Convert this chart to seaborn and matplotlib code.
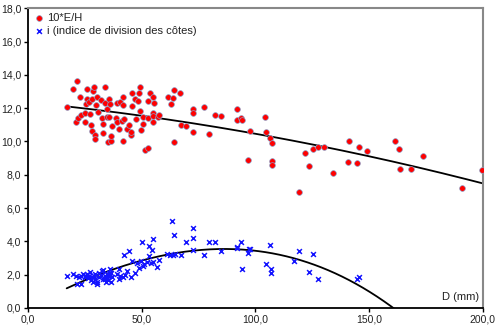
import numpy as np
import pandas as pd
import matplotlib
matplotlib.use("Agg")
import matplotlib.pyplot as plt
import seaborn as sns
from matplotlib.ticker import FuncFormatter

# ---- data ----
red_x = [16.9, 19.8, 21.3, 21.0, 21.9, 22.8, 23.3, 24.8, 25.1, 25.4, 25.7, 26.0, 26.9, 27.2, 27.8,
         28.0, 28.0, 28.4, 28.9, 29.2, 29.2, 29.8, 30.1, 30.7, 32.1, 32.5, 32.8, 33.0, 33.6, 33.9,
         34.8, 34.8, 35.1, 35.7, 36.0, 35.7, 36.3, 36.5, 36.9, 38.6, 38.9, 39.2, 40.0, 40.4, 41.3,
         41.6, 41.8, 42.1, 41.8, 43.6, 44.2, 45.1, 45.4, 45.7, 45.7, 46.9, 47.4, 48.3, 48.9, 49.2,
         49.2, 49.8, 50.4, 50.4, 51.5, 52.7, 52.7, 52.7, 53.6, 54.8, 55.3, 54.8, 54.8, 55.0, 57.1,
         57.7, 61.5, 62.7, 63.6, 64.2, 66.8, 64.2, 67.1, 69.4, 72.4, 72.7, 72.7, 77.4, 79.7, 82.1,
         85.0, 91.8, 92.0, 93.5, 94.1, 96.9, 97.6, 104.1, 104.7, 106.4, 107.3, 107.3, 107.3, 119.2,
         121.7, 123.7, 125.5, 127.6, 130.2, 134.3, 141.1, 140.8, 144.6, 145.7, 149.3, 161.6, 163.4,
         163.7, 168.4, 173.7, 191.0, 199.6]
red_y = [12.05, 13.17, 13.65, 11.17, 11.41, 12.65, 11.61, 11.17, 11.69, 12.25, 12.53, 13.13, 12.37, 11.65, 10.97,
         10.61, 12.53, 13.05, 13.25, 10.41, 10.17, 12.17, 12.65, 11.77, 12.49, 11.41, 11.05, 10.53, 13.25, 12.33,
         11.45, 11.97, 9.97, 12.53, 12.25, 11.45, 10.05, 10.33, 10.93, 11.41, 11.17, 12.33, 10.77, 12.37, 11.21,
         12.21, 12.69, 11.33, 10.05, 10.73, 10.97, 10.37, 10.57, 12.13, 12.93, 12.53, 11.33, 12.45, 12.93, 13.25,
         11.81, 10.69, 11.05, 11.45, 9.49, 9.61, 11.41, 12.45, 12.93, 12.65, 12.33, 11.73, 11.17, 11.53, 11.45,
         11.61, 12.69, 12.25, 12.61, 13.09, 12.93, 9.97, 10.97, 10.93, 11.93, 11.73, 10.57, 12.09, 10.45, 11.61,
         11.53, 11.97, 11.29, 11.41, 11.29, 8.89, 10.63, 11.45, 10.55, 10.19, 9.93, 8.85, 8.61, 6.98,
         9.29, 8.53, 9.57, 9.65, 9.69, 8.13, 10.01, 8.77, 8.73, 9.69, 9.41, 10.01, 9.57,
         8.33, 8.33, 9.13, 7.20, 8.31]

blue_x = [16.9, 19.8, 21.0, 21.6, 22.5, 23.1, 23.3, 24.2, 24.8, 25.4, 26.0, 26.3, 26.9, 27.2, 27.5,
          28.0, 28.4, 28.9, 29.2, 29.5, 30.1, 30.4, 31.0, 31.3, 32.1, 32.5, 32.8, 33.0, 33.6, 33.9,
          34.2, 34.5, 34.8, 35.1, 35.4, 35.7, 36.0, 36.3, 36.5, 36.9, 39.2, 39.8, 40.1, 40.4, 41.6,
          42.1, 42.7, 43.3, 44.5, 45.1, 45.7, 46.9, 47.7, 48.9, 49.5, 50.1, 50.4, 50.9, 52.1, 53.0,
          53.3, 53.9, 54.5, 54.8, 55.0, 56.5, 57.4, 61.2, 62.4, 63.3, 63.6, 64.2, 64.5, 67.1, 69.4,
          72.4, 72.7, 72.7, 77.4, 79.7, 82.1, 85.0, 91.8, 92.0, 93.5, 94.1, 96.7, 97.3, 97.6, 106.4,
          104.7, 107.0, 107.0, 119.1, 117.0, 125.5, 123.7, 127.6, 144.6, 145.5]
blue_y = [1.94, 2.06, 1.92, 1.46, 1.84, 1.92, 1.46, 2.02, 1.84, 1.92, 2.06, 1.78, 1.92, 2.16, 1.68,
          1.84, 1.58, 1.92, 1.72, 2.04, 1.46, 1.54, 2.12, 1.84, 1.96, 2.20, 1.76, 2.28, 1.92, 1.72,
          1.56, 2.04, 1.84, 1.68, 2.12, 1.92, 2.32, 1.56, 2.08, 1.84, 2.02, 1.76, 2.34, 1.92, 1.84,
          3.18, 1.98, 2.20, 3.44, 1.84, 2.84, 2.12, 2.68, 2.38, 2.84, 3.98, 2.52, 2.64, 2.78, 3.72,
          3.12, 2.72, 3.48, 4.13, 2.76, 2.48, 2.88, 3.24, 3.16, 5.23, 3.18, 4.37, 3.24, 3.18, 3.98,
          4.79, 4.19, 3.48, 3.18, 3.98, 3.98, 3.44, 3.68, 3.60, 3.98, 2.32, 3.28, 3.56, 3.54, 3.80,
          2.64, 2.32, 2.08, 3.40, 2.84, 3.24, 2.18, 1.74, 1.74, 1.84]

x_ticks = [0, 50, 100, 150, 200]
y_ticks = [0, 2, 4, 6, 8, 10, 12, 14, 16, 18]
red_label = "10*E/H"
blue_label = "i (indice de division des côtes)"
x_title = "D (mm)"

red_df = pd.DataFrame({"D": red_x, "v": red_y})
blue_df = pd.DataFrame({"D": blue_x, "v": blue_y})

# ---- style ----
sns.set_style("white")
plt.rcParams["font.family"] = ["Liberation Sans", "DejaVu Sans"]

fig = plt.figure(figsize=(5.0, 3.28), dpi=100)
ax = fig.add_axes([0.0566, 0.061, 0.9084, 0.9137])

sns.scatterplot(data=red_df, x="D", y="v", ax=ax, color="#ff0000", marker="o", s=17,
                edgecolor="#8e9cc4", linewidth=0.5, label=red_label, zorder=3)
sns.scatterplot(data=blue_df, x="D", y="v", ax=ax, color="#1414ff", marker="x", s=12,
                linewidth=1.1, label=blue_label, zorder=3)

# trend lines (polynomial fits of each series, as in the original)
xr = np.linspace(min(red_x), 200, 300)
cr = np.polyfit(red_x, red_y, 2)
ax.plot(xr, np.polyval(cr, xr), color="black", lw=1.3, zorder=2)
xb = np.linspace(min(blue_x), 200, 300)
cb = np.polyfit(blue_x, blue_y, 3)
ax.plot(xb, np.polyval(cb, xb), color="black", lw=1.3, zorder=2)

ax.set_xlim(0, 200)
ax.set_ylim(0, 18)
ax.set_xticks(x_ticks)
ax.set_yticks(y_ticks)
fmt = FuncFormatter(lambda v, p: f"{v:.1f}".replace(".", ","))
ax.xaxis.set_major_formatter(fmt)
ax.yaxis.set_major_formatter(fmt)
ax.tick_params(axis="both", labelsize=7.5, length=3, width=1, direction="out",
               colors="black", labelcolor="#222222", pad=2)
ax.tick_params(axis="x", bottom=True)
ax.tick_params(axis="y", left=True)
ax.set_xlabel("")
ax.set_ylabel("")

for s in ["left", "bottom"]:
    ax.spines[s].set_color("black")
    ax.spines[s].set_linewidth(1.3)
for s in ["top", "right"]:
    ax.spines[s].set_color("#888888")
    ax.spines[s].set_linewidth(1.5)

ax.text(0.993, 0.02, x_title, transform=ax.transAxes, ha="right", va="bottom",
        fontsize=8, color="#222222")

leg = ax.legend(loc="upper left", frameon=False, fontsize=8, handletextpad=0.1,
                borderaxespad=0.2, labelspacing=0.25, handlelength=1.2,
                borderpad=0.2, markerscale=1.0)
for t in leg.get_texts():
    t.set_color("#222222")

fig.savefig("out.png", dpi=100)
